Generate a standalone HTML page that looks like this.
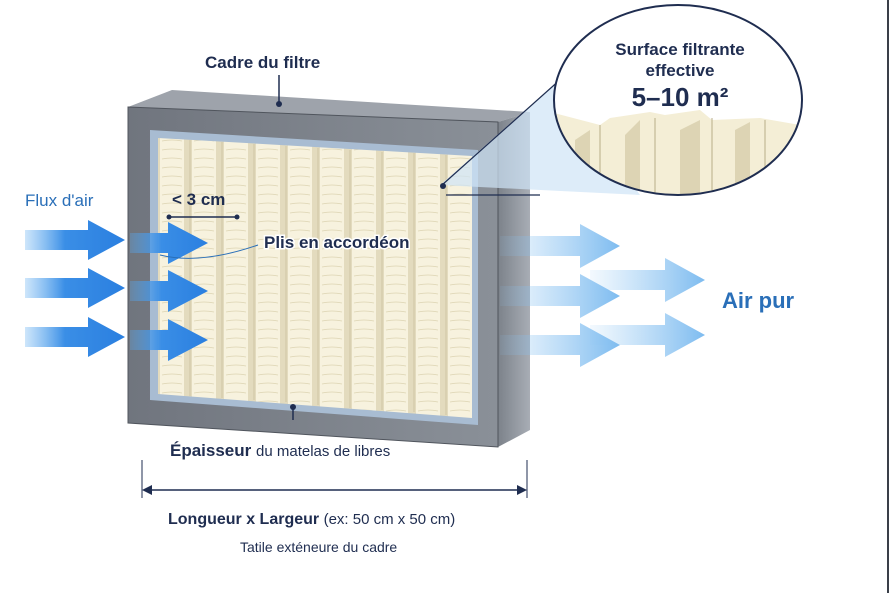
<!DOCTYPE html>
<html><head><meta charset="utf-8"><style>
html,body{margin:0;padding:0;background:#fff}
svg{display:block}
text{font-family:"Liberation Sans",sans-serif}
</style></head><body>
<svg width="889" height="593" viewBox="0 0 889 593" xmlns="http://www.w3.org/2000/svg">
<defs>
<linearGradient id="fr" x1="0" y1="0" x2="1" y2="0"><stop offset="0" stop-color="#70757e"/><stop offset="1" stop-color="#8a9098"/></linearGradient>
<linearGradient id="side" x1="0" y1="0" x2="1" y2="0"><stop offset="0" stop-color="#7c828a"/><stop offset="1" stop-color="#a8adb5"/></linearGradient>
<linearGradient id="ab" x1="0" y1="0" x2="1" y2="0"><stop offset="0" stop-color="#5aaaf0" stop-opacity="0.3"/><stop offset="0.4" stop-color="#3a8ee6"/><stop offset="1" stop-color="#2a7fe0"/></linearGradient>
<linearGradient id="af" x1="0" y1="0" x2="1" y2="0"><stop offset="0" stop-color="#8cc4f2" stop-opacity="0.1"/><stop offset="1" stop-color="#6fb4ee" stop-opacity="0.9"/></linearGradient>
<pattern id="pl" width="32" height="9" patternUnits="userSpaceOnUse" x="160">
<rect width="32" height="9" fill="#f7f2de"/><rect x="24" width="8" height="9" fill="#e3dbbe"/><path d="M2 6 Q12 4 22 6" stroke="#ddd4b2" stroke-width="0.8" fill="none"/>
</pattern>
<clipPath id="ec"><ellipse cx="678" cy="100" rx="124" ry="95"/></clipPath>
</defs>
<rect width="889" height="593" fill="#fff"/>
<rect x="887" y="0" width="2" height="593" fill="#3a3f48"/>
<polygon points="128,107 172,90 530,112 498,122" fill="#9ea3ab"/>
<polygon points="498,122 530,112 530,430 498,447" fill="url(#side)"/>
<polygon points="128,107 498,122 498,447 128,423" fill="url(#fr)" stroke="#50555d" stroke-width="1"/>
<polygon points="150,130 478,150 478,425 150,400" fill="#a8bcd2"/>
<polygon points="158,138 472,156 472,418 158,394" fill="url(#pl)"/>
<g stroke="#cfc6a4" stroke-width="1">
<line x1="190" y1="140" x2="190" y2="396"/><line x1="222" y1="142" x2="222" y2="398"/><line x1="254" y1="144" x2="254" y2="400"/><line x1="286" y1="146" x2="286" y2="402"/><line x1="318" y1="148" x2="318" y2="405"/><line x1="350" y1="150" x2="350" y2="408"/><line x1="382" y1="152" x2="382" y2="410"/><line x1="414" y1="153" x2="414" y2="412"/><line x1="446" y1="155" x2="446" y2="415"/>
</g>
<circle cx="279" cy="104" r="3" fill="#1f2d50"/><line x1="279" y1="75" x2="279" y2="104" stroke="#1f2d50" stroke-width="1.5"/>
<circle cx="293" cy="407" r="3" fill="#1f2d50"/><line x1="293" y1="407" x2="293" y2="420" stroke="#1f2d50" stroke-width="1.5"/>
<polygon points="440,185 560,80 640,195" fill="#cfe4f6" opacity="0.7"/>
<line x1="442" y1="185" x2="562" y2="78" stroke="#1f2d50" stroke-width="1.2"/>
<line x1="446" y1="195" x2="540" y2="195" stroke="#1f2d50" stroke-width="1.2"/>
<circle cx="443" cy="186" r="3" fill="#1f2d50"/>
<ellipse cx="678" cy="100" rx="124" ry="95" fill="#fff"/>
<g clip-path="url(#ec)">
<path d="M550 112 L600 125 L610 118 L650 112 L665 115 L700 110 L712 120 L760 118 L800 125 L800 200 L550 200Z" fill="#f4eed6"/>
<g fill="#ddd4b4"><polygon points="575,140 590,130 590,200 575,200"/><polygon points="625,135 640,120 640,200 625,200"/><polygon points="680,130 700,120 700,200 680,200"/><polygon points="735,130 750,122 750,200 735,200"/></g>
<g stroke="#b8ad88" stroke-width="1"><line x1="600" y1="125" x2="600" y2="200"/><line x1="655" y1="118" x2="655" y2="200"/><line x1="712" y1="118" x2="712" y2="200"/><line x1="765" y1="120" x2="765" y2="200"/></g>
</g>
<ellipse cx="678" cy="100" rx="124" ry="95" fill="none" stroke="#1f2d50" stroke-width="2"/>
<text x="680" y="55" text-anchor="middle" font-size="17" font-weight="bold" fill="#1f2d50">Surface filtrante</text>
<text x="680" y="76" text-anchor="middle" font-size="17" font-weight="bold" fill="#1f2d50">effective</text>
<text x="680" y="106" text-anchor="middle" font-size="26" font-weight="bold" fill="#1f2d50">5–10 m²</text>
<g fill="url(#ab)">
<path d="M25 230 H88 V220 L125 240 L88 260 V250 H25Z"/>
<path d="M25 278 H88 V268 L125 288 L88 308 V298 H25Z"/>
<path d="M25 327 H88 V317 L125 337 L88 357 V347 H25Z"/>
<path d="M130 233 H168 V222 L208 243 L168 264 V253 H130Z"/>
<path d="M130 281 H168 V270 L208 291 L168 312 V301 H130Z"/>
<path d="M130 330 H168 V319 L208 340 L168 361 V350 H130Z"/>
</g>
<g fill="url(#af)">
<path d="M500 236 H580 V224 L620 246 L580 268 V256 H500Z"/>
<path d="M500 286 H580 V274 L620 296 L580 318 V306 H500Z"/>
<path d="M500 335 H580 V323 L620 345 L580 367 V355 H500Z"/>
<path d="M590 270 H665 V258 L705 280 L665 302 V290 H590Z"/>
<path d="M590 325 H665 V313 L705 335 L665 357 V345 H590Z"/>
</g>
<text x="205" y="68" font-size="17" font-weight="bold" fill="#1f2d50">Cadre du filtre</text>
<text x="25" y="206" font-size="17" fill="#2a6fb8">Flux d'air</text>
<text x="172" y="205" font-size="17" font-weight="bold" fill="#1f2d50">&lt; 3 cm</text>
<line x1="169" y1="217" x2="237" y2="217" stroke="#1f2d50" stroke-width="1.5"/>
<circle cx="169" cy="217" r="2.5" fill="#1f2d50"/><circle cx="237" cy="217" r="2.5" fill="#1f2d50"/>
<path d="M160 255 Q200 265 258 245" stroke="#2a6fb8" stroke-width="1" fill="none"/>
<text x="264" y="248" font-size="17" font-weight="bold" fill="#1f2d50" stroke="#fff" stroke-width="3" paint-order="stroke">Plis en accordéon</text>
<text x="722" y="308" font-size="22" font-weight="bold" fill="#2a6fb8">Air pur</text>
<text x="170" y="456" font-size="17" font-weight="bold" fill="#1f2d50">Épaisseur <tspan font-weight="normal" font-size="15">du matelas de libres</tspan></text>
<line x1="142" y1="460" x2="142" y2="498" stroke="#1f2d50" stroke-width="1"/>
<line x1="527" y1="460" x2="527" y2="498" stroke="#1f2d50" stroke-width="1"/>
<line x1="148" y1="490" x2="521" y2="490" stroke="#1f2d50" stroke-width="1.5"/>
<polygon points="142,490 152,485 152,495" fill="#1f2d50"/><polygon points="527,490 517,485 517,495" fill="#1f2d50"/>
<text x="168" y="524" font-size="16" font-weight="bold" fill="#1f2d50">Longueur x Largeur <tspan font-weight="normal" font-size="15">(ex: 50 cm x 50 cm)</tspan></text>
<text x="240" y="552" font-size="14" fill="#1f2d50">Tatile exténeure du cadre</text>
</svg>
</body></html>
